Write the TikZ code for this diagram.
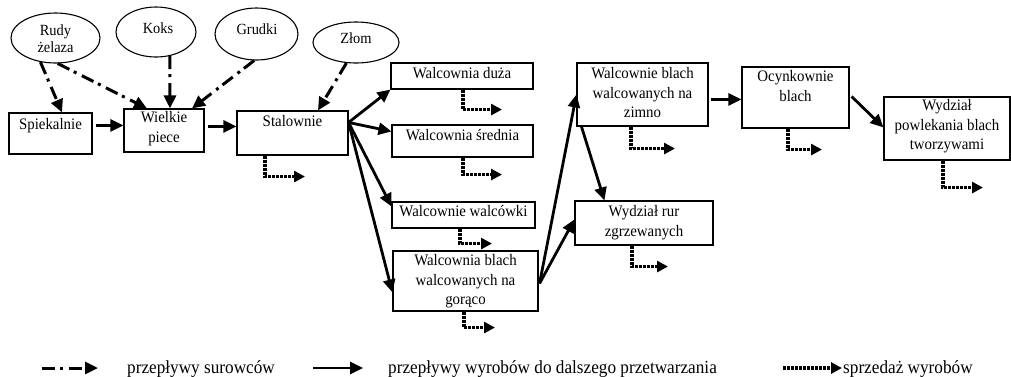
\documentclass[tikz,border=0pt]{standalone}
\usepackage{fontspec}
\setmainfont{Liberation Serif}[FakeStretch=0.93]
\usetikzlibrary{arrows.meta,calc,shapes.geometric}
\begin{document}
\begin{tikzpicture}[x=1pt,y=-1pt,
  box/.style={draw,line width=1.1pt,inner sep=0pt,rectangle},
  oval/.style={draw,line width=1.1pt,ellipse,inner sep=0pt},
  txt/.style={font=\fontsize{16}{19.5}\selectfont,align=center,inner sep=0pt,anchor=north},
  otxt/.style={font=\fontsize{15.5}{17}\selectfont,align=center,inner sep=0pt},
  ltxt/.style={font=\fontsize{18.5}{20}\selectfont,inner sep=0pt,anchor=base west},
  flow/.style={line width=2.8pt,-{Triangle[length=13pt,width=12pt]}},
  raw/.style={flow,line width=3pt,dash pattern=on 13pt off 5pt on 3pt off 6pt},
  sale/.style={line width=3.2pt,dash pattern=on 3pt off 1pt,-{Triangle[length=11pt,width=11pt]}},
]
\useasboundingbox (0,0) rectangle (1011,376);

% raw-material ovals
\node[oval,minimum width=89pt,minimum height=50pt] (rudy) at (55.5,38) {};
\node[otxt] (rudy-t) at (55.5,38.5) {Rudy\\żelaza};
\node[oval,minimum width=80pt,minimum height=50pt] (koks) at (156,32) {};
\node[otxt] (koks-t) at (158,28) {Koks};
\node[oval,minimum width=83pt,minimum height=52pt] (grud) at (256.5,34) {};
\node[otxt] (grud-t) at (257,29) {Grudki};
\node[oval,minimum width=86pt,minimum height=41pt] (zlom) at (356,42.5) {};
\node[otxt] (zlom-t) at (356,38) {Złom};

% boxes
\node[box,minimum width=83pt,minimum height=41pt] (spiek) at (50.5,133.5) {};
\node[txt,yshift=-6pt] (spiek-t) at (spiek.north) {Spiekalnie};
\node[box,minimum width=80pt,minimum height=43pt] (wiel) at (164,130.5) {};
\node[txt,yshift=-3pt] (wiel-t) at (wiel.north) {Wielkie\\piece};
\node[box,minimum width=111pt,minimum height=44pt] (stal) at (292.5,133) {};
\node[txt,yshift=-5pt] (stal-t) at (stal.north) {Stalownie};
\node[box,minimum width=142pt,minimum height=26pt] (duza) at (462,76) {};
\node[txt,yshift=-5pt] (duza-t) at (duza.north) {Walcownia duża};
\node[box,minimum width=141pt,minimum height=32pt] (sred) at (462.5,141) {};
\node[txt,yshift=-5pt] (sred-t) at (sred.north) {Walcownia średnia};
\node[box,minimum width=143pt,minimum height=26pt] (walc) at (463.5,215) {};
\node[txt,yshift=-4pt] (walc-t) at (walc.north) {Walcownie walcówki};
\node[box,minimum width=145pt,minimum height=60pt] (gor) at (465.5,281) {};
\node[txt,yshift=-4pt] (gor-t) at (gor.north) {Walcownia blach\\walcowanych na\\gorąco};
\node[box,minimum width=131pt,minimum height=63pt] (zimno) at (642.5,94.5) {};
\node[txt,yshift=-5pt] (zimno-t) at (zimno.north) {Walcownie blach\\walcowanych na\\zimno};
\node[box,minimum width=107pt,minimum height=61pt] (ocyn) at (795.5,97.5) {};
\node[txt,yshift=-4pt] (ocyn-t) at (ocyn.north) {Ocynkownie\\blach};
\node[box,minimum width=126pt,minimum height=63pt] (wydz) at (947,128.5) {};
\node[txt,yshift=-3pt] (wydz-t) at (wydz.north) {Wydział\\powlekania blach\\tworzywami};
\node[box,minimum width=138pt,minimum height=44pt] (rur) at (644,223) {};
\node[txt,yshift=-5pt] (rur-t) at (rur.north) {Wydział rur\\zgrzewanych};

% raw material flows
\draw[raw] (rudy.238) -- (62,0 |- spiek.north);
\draw[raw] (rudy.275) -- (147,0 |- wiel.north);
\draw[raw] (koks.-60) -- (170,0 |- wiel.north);
\draw[raw] (grud.265) -- (192,0 |- wiel.north);
\draw[raw] (zlom.245) -- (318,0 |- stal.north);

% product flows
\draw[flow] ([xshift=3pt,yshift=-13pt]spiek.north east) -- ([yshift=-17pt]wiel.north west);
\draw[flow] ([xshift=3pt,yshift=-18pt]wiel.north east) -- ([yshift=-16pt]stal.north west);
\coordinate (fan) at ([yshift=-12pt]stal.north east);
\draw[flow] (fan) -- (duza.south west);
\draw[flow] (fan) -- ([yshift=-7pt]sred.north west);
\draw[flow] (fan) -- ([yshift=-5pt]walc.north west);
\draw[flow] (fan) -- ([yshift=-42pt]gor.north west);
\coordinate (gfan) at ([xshift=1pt,yshift=-33pt]gor.north east);
\draw[flow] (gfan) -- ([yshift=-32pt]zimno.north west);
\draw[flow] (gfan) -- ([yshift=-19pt]rur.north west);
\draw[flow] ([xshift=5pt]zimno.south west) -- ([xshift=30pt]rur.north west);
\draw[flow] ([xshift=2pt,yshift=-37pt]zimno.north east) -- ([yshift=-33pt]ocyn.north west);
\draw[flow] ([xshift=2pt,yshift=-30pt]ocyn.north east) -- ([yshift=-31pt]wydz.north west);

% sales
\draw[sale] (265,0 |- stal.south) -- ++(0,21) -- ++(40,0);
\draw[sale] (463,0 |- duza.south) -- ++(0,20) -- ++(39,0);
\draw[sale] (463,0 |- sred.south) -- ++(0,17) -- ++(39,0);
\draw[sale] (460,0 |- walc.south) -- ++(0,15) -- ++(32,0);
\draw[sale] (464,0 |- gor.south) -- ++(0,16) -- ++(31,0);
\draw[sale] (631,0 |- zimno.south) -- ++(0,22) -- ++(44,0);
\draw[sale] (788,0 |- ocyn.south) -- ++(0,21) -- ++(34,0);
\draw[sale] (943,0 |- wydz.south) -- ++(0,27) -- ++(40,0);
\draw[sale] (632,0 |- rur.south) -- ++(0,21) -- ++(36,0);

% legend
\coordinate (l1a) at (42,368); \coordinate (l1b) at (98,368);
\draw[raw] (l1a) -- (l1b);
\node[ltxt] (l1t) at (127,373) {przepływy surowców};
\coordinate (l2a) at (313,368); \coordinate (l2b) at (363,368);
\draw[flow] (l2a) -- (l2b);
\node[ltxt] (l2t) at (388,373) {przepływy wyrobów do dalszego przetwarzania};
\coordinate (l3a) at (783,368); \coordinate (l3b) at (842,368);
\draw[sale] (l3a) -- (l3b);
\node[ltxt] (l3t) at (843,373) {sprzedaż wyrobów};
\end{tikzpicture}
\end{document}
